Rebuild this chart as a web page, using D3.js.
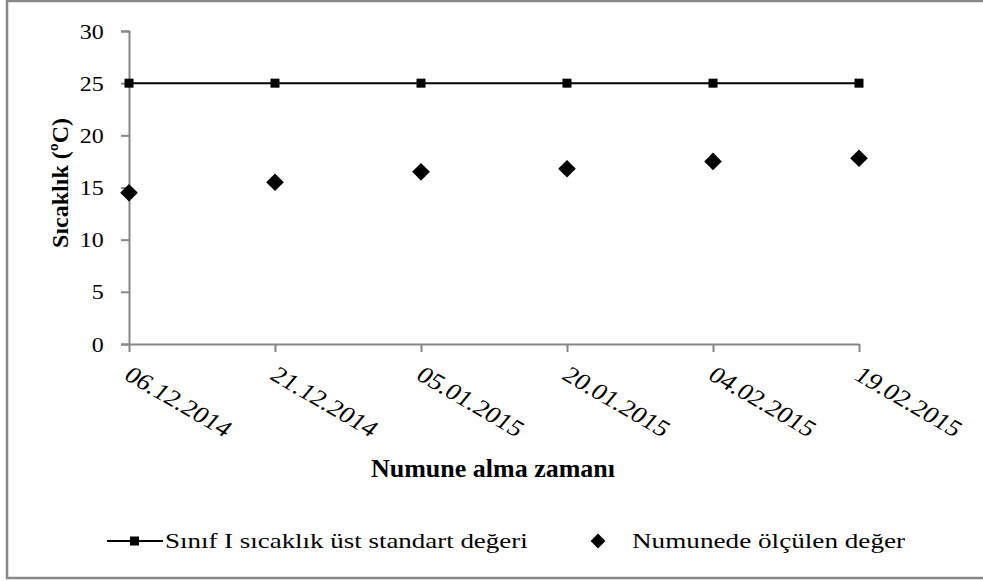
<!DOCTYPE html>
<html>
<head>
<meta charset="utf-8">
<script src="https://cdn.jsdelivr.net/npm/d3@7"></script>
<style>
	body { margin: 0; background: #fff; }
	svg { display: block; font-family: "Liberation Serif", "Times New Roman", serif; }
</style>
</head>
<body>
<svg class="chart" width="983" height="581"></svg>
<script>
// Data
const dates = ["06.12.2014", "21.12.2014", "05.01.2015", "20.01.2015", "04.02.2015", "19.02.2015"];
const standardValues = [25, 25, 25, 25, 25, 25];
const measuredValues = [14.5, 15.5, 16.5, 16.8, 17.5, 17.8];
const yTicks = [0, 5, 10, 15, 20, 25, 30];
const seriesNames = ["Sınıf I sıcaklık üst standart değeri", "Numunede ölçülen değer"];

////////////////////////////////////////////////////////////
//// Setup /////////////////////////////////////////////////
////////////////////////////////////////////////////////////
const svg = d3.select(".chart");
const axisColor = "#868686";
const stretch = 1.2;

const x = d3.scalePoint().domain(dates).range([129, 859]);
const y = d3.scaleLinear().domain([0, 30]).range([344, 31]);

// outer frame
svg.append("rect")
	.attr("x", 7).attr("y", 1)
	.attr("width", 990).attr("height", 577)
	.attr("fill", "#fff")
	.attr("stroke", "#898989")
	.attr("stroke-width", 2.5);

////////////////////////////////////////////////////////////
//// Axes //////////////////////////////////////////////////
////////////////////////////////////////////////////////////
const yAxis = svg.append("g")
	.attr("transform", `translate(${x.range()[0]},0)`)
	.call(d3.axisLeft(y).tickValues(yTicks).tickSize(8).tickSizeOuter(8).tickPadding(0));
yAxis.select(".domain").attr("stroke", axisColor).attr("stroke-width", 2);
yAxis.selectAll(".tick line").attr("stroke", axisColor).attr("stroke-width", 2);
yAxis.selectAll(".tick text")
	.attr("x", -21)
	.attr("dy", "0.35em")
	.attr("transform", `scale(${stretch},1)`)
	.attr("font-size", 20)
	.attr("font-family", "Liberation Serif")
	.attr("fill", "#000");

const xAxis = svg.append("g")
	.attr("transform", `translate(0,${y(0)})`)
	.call(d3.axisBottom(x).tickSize(8).tickSizeOuter(0));
xAxis.select(".domain").attr("stroke", axisColor).attr("stroke-width", 2);
xAxis.selectAll(".tick line").attr("stroke", axisColor).attr("stroke-width", 2);
xAxis.selectAll(".tick text")
	.attr("x", 0).attr("y", 0).attr("dy", "0.7em")
	.attr("text-anchor", "start")
	.attr("transform", `translate(4,21) scale(${stretch},1) rotate(35)`)
	.attr("font-size", 23)
	.attr("font-family", "Liberation Serif")
	.attr("fill", "#000");

// axis titles
svg.append("text")
	.attr("transform", "translate(68,183) rotate(-90)")
	.attr("text-anchor", "middle")
	.attr("font-weight", "bold")
	.attr("font-size", 24)
	.text("Sıcaklık (ºC)");

svg.append("text")
	.attr("x", 493).attr("y", 477)
	.attr("text-anchor", "middle")
	.attr("font-weight", "bold")
	.attr("font-size", 26)
	.text("Numune alma zamanı");

////////////////////////////////////////////////////////////
//// Series ////////////////////////////////////////////////
////////////////////////////////////////////////////////////
const line = d3.line()
	.x((d, i) => x(dates[i]))
	.y(d => y(d));

svg.append("path")
	.datum(standardValues)
	.attr("fill", "none")
	.attr("stroke", "#000")
	.attr("stroke-width", 2)
	.attr("d", line);

svg.append("g")
	.selectAll("rect")
	.data(standardValues)
	.join("rect")
	.attr("x", (d, i) => x(dates[i]) - 4.5)
	.attr("y", d => y(d) - 4.5)
	.attr("width", 9)
	.attr("height", 9)
	.attr("fill", "#000");

const diamond = d3.symbol().type(d3.symbolSquare).size(155);
svg.append("g")
	.selectAll("path")
	.data(measuredValues)
	.join("path")
	.attr("transform", (d, i) => `translate(${x(dates[i])},${y(d)}) rotate(45)`)
	.attr("d", diamond)
	.attr("fill", "#000");

////////////////////////////////////////////////////////////
//// Legend ////////////////////////////////////////////////
////////////////////////////////////////////////////////////
const legend = svg.append("g").attr("transform", "translate(0,541)");

legend.append("line")
	.attr("x1", 107).attr("x2", 163)
	.attr("stroke", "#000").attr("stroke-width", 2);
legend.append("rect")
	.attr("x", 130).attr("y", -4.5)
	.attr("width", 9).attr("height", 9)
	.attr("fill", "#000");
legend.append("text")
	.attr("transform", `translate(165,0) scale(1.225,1)`)
	.attr("dy", "0.33em")
	.attr("font-size", 22)
	.text(seriesNames[0]);

legend.append("path")
	.attr("transform", "translate(598,0) rotate(45)")
	.attr("d", d3.symbol().type(d3.symbolSquare).size(110))
	.attr("fill", "#000");
legend.append("text")
	.attr("transform", `translate(632,0) scale(1.235,1)`)
	.attr("dy", "0.33em")
	.attr("font-size", 22)
	.text(seriesNames[1]);
</script>
</body>
</html>
